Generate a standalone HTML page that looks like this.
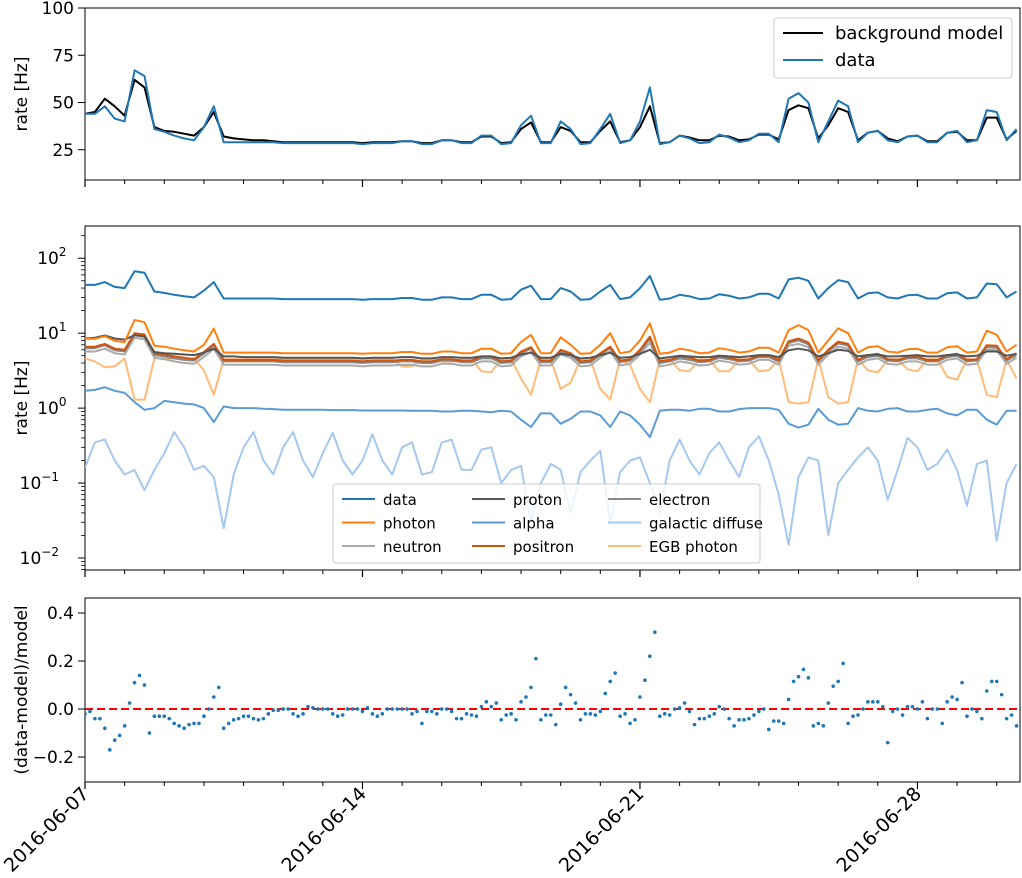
<!DOCTYPE html>
<html><head><meta charset="utf-8"><style>
html,body{margin:0;padding:0;background:#fff;}
svg{display:block;font-family:"DejaVu Sans","Liberation Sans",sans-serif;}
</style></head><body>
<svg id="c" width="1022" height="878" viewBox="0 0 1022 878" xmlns="http://www.w3.org/2000/svg"></svg>
<script>
// ---- data (sampled every 0.25 day from 2016-06-07) ----
const dataRate=[44,44,48,41.5, 40,67,64,36, 34.5,32.5,31,30, 37,48,29,29, 29,29,29,29, 28.5,28.5,28.5,28.5, 28.5,28.5,28.5,28.5, 28,28.5,28.5,28.5, 29.5,29.5,28,28, 30,30,28.5,28.5, 32.5,32.5,28,28.5, 38,43,28.5,28.5, 40,36,28,28.5, 36,44,28.5,30, 40,58,28,29, 32.5,31,28.5,29, 33,31.5,29,30, 33.5,33.5,29,52, 55,50,29,40, 51,48,29,34, 35,30,29,32, 32.5,29,29,34, 35,29,30,46, 45,30,36];
const modelRate=[44,45,52,48, 43,62,58,37, 35,34.5,33.5,32.5, 37,45,32,31, 30.5,30,30,29.5, 29,29,29,29, 29,29,29,29, 28.5,29,29,29, 29.5,29.5,28.5,28.5, 30,30,29,29, 32,32,28.5,29, 36,39.5,29,29, 37,35,29,29, 35,40,29,30, 37,48,28.5,29, 32.5,31.5,30,30, 32.5,32,30,30.5, 33,33,30.5,46, 48.5,47,31,38, 47,45,30,34, 35,31,29.5,32, 32.5,29.5,29.5,34, 34.5,30,30,42, 42,30.5,35];
const photon=[8.4,8.4,9.1,7.9, 7.6,15,14,6.8, 6.6,6.2,5.9,5.7, 7,11.5,5.5,5.5, 5.5,5.5,5.5,5.5, 5.4,5.4,5.4,5.4, 5.4,5.4,5.4,5.4, 5.3,5.4,5.4,5.4, 5.6,5.6,5.3,5.3, 5.7,5.7,5.4,5.4, 6.2,6.2,5.3,5.4, 7.6,9.5,5.4,5.4, 8.8,7,5.3,5.4, 7,10,5.4,5.7, 8,13.5,5.3,5.5, 6.2,5.9,5.4,5.5, 6.3,6,5.5,5.7, 6.4,6.4,5.5,11, 12.8,11,5.5,8, 11.6,10,5.5,6.5, 6.7,5.7,5.5,6.1, 6.2,5.5,5.5,6.5, 6.7,5.5,5.7,10.8, 9.5,5.7,7];
const positron=[6.6,6.6,7.2,6.2, 6,10,9.6,5.4, 5.2,4.9,4.7,4.5, 5.6,7.2,4.4,4.4, 4.4,4.4,4.4,4.4, 4.3,4.3,4.3,4.3, 4.3,4.3,4.3,4.3, 4.2,4.3,4.3,4.3, 4.4,4.4,4.2,4.2, 4.5,4.5,4.3,4.3, 4.9,4.9,4.2,4.3, 5.7,6.5,4.3,4.3, 6,5.4,4.2,4.3, 5.4,6.6,4.3,4.5, 6,9,4.2,4.4, 4.9,4.7,4.3,4.4, 5,4.7,4.4,4.5, 5,5,4.4,7.8, 8.5,7.5,4.4,6, 7.7,7.2,4.4,5.1, 5.3,4.5,4.4,4.8, 4.9,4.4,4.4,5.1, 5.3,4.4,4.5,6.9, 6.8,4.5,5.4];
const electron=[6.3,6.3,6.9,5.9, 5.7,9.6,9.2,5.1, 4.9,4.6,4.4,4.3, 5.3,6.9,4.2,4.2, 4.2,4.2,4.2,4.2, 4.1,4.1,4.1,4.1, 4.1,4.1,4.1,4.1, 4,4.1,4.1,4.1, 4.2,4.2,4,4, 4.3,4.3,4.1,4.1, 4.6,4.6,4,4.1, 5.4,6.2,4.1,4.1, 5.7,5.1,4,4.1, 5.1,6.3,4.1,4.3, 5.7,8.4,4,4.2, 4.6,4.4,4.1,4.2, 4.7,4.5,4.2,4.3, 4.8,4.8,4.2,7.4, 8,7.1,4.2,5.7, 7.3,6.8,4.2,4.8, 5,4.3,4.2,4.6, 4.6,4.2,4.2,4.8, 5,4.2,4.3,6.5, 6.4,4.3,5.1];
const neutron=[5.7,5.7,6.2,5.4, 5.2,8.7,8.3,4.7, 4.5,4.2,4,3.9, 4.8,6.2,3.8,3.8, 3.8,3.8,3.8,3.8, 3.7,3.7,3.7,3.7, 3.7,3.7,3.7,3.7, 3.6,3.7,3.7,3.7, 3.8,3.8,3.6,3.6, 3.9,3.9,3.7,3.7, 4.2,4.2,3.6,3.7, 4.9,5.6,3.7,3.7, 5.2,4.7,3.6,3.7, 4.7,5.7,3.7,3.9, 5.2,7.5,3.6,3.8, 4.2,4,3.7,3.8, 4.3,4.1,3.8,3.9, 4.4,4.4,3.8,6.8, 7.2,6.5,3.8,5.2, 6.6,6.2,3.8,4.4, 4.6,3.9,3.8,4.2, 4.2,3.8,3.8,4.4, 4.6,3.8,3.9,6, 5.9,3.9,4.7];
const proton=[8.5,8.7,9.3,8.5, 8.2,9.4,9,5.6, 5.4,5.3,5.2,5.1, 5.5,6.2,4.9,4.9, 4.8,4.8,4.8,4.8, 4.7,4.7,4.7,4.7, 4.7,4.7,4.7,4.7, 4.6,4.7,4.7,4.7, 4.8,4.8,4.6,4.6, 4.8,4.8,4.7,4.7, 4.9,4.9,4.6,4.7, 5.2,5.5,4.7,4.7, 5.3,5.1,4.6,4.7, 5.1,5.5,4.7,4.8, 5.3,6,4.6,4.8, 5,4.9,4.8,4.8, 5,4.9,4.8,4.9, 5.1,5.1,4.8,5.9, 6.2,5.9,4.9,5.4, 6,5.8,4.9,5.1, 5.2,4.9,4.9,5, 5.1,4.9,4.9,5.1, 5.2,4.9,5,5.7, 5.7,5,5.3];
const egbPhoton=[4.6,4.2,3.5,3.6, 4.6,1.3,1.3,4.6, 4.6,4.6,4.6,4.6, 3.2,1.5,4.5,4.5, 4.5,4.5,4.5,4.5, 4.5,4.5,4.5,4.5, 4.5,4.5,4.5,4.5, 4.5,4.5,4.5,4.5, 3.6,3.6,4.5,4.5, 4.2,4.2,4.5,4.5, 3.1,3.0,4.5,4.5, 2.5,1.5,4.5,4.5, 1.8,2.2,4.5,4.5, 1.8,1.3,4.5,3.8, 1.8,1.2,4.5,4.5, 3.2,3.1,4.5,4.4, 3.1,3.1,4.5,4.4, 3.1,3.2,4.5,1.2, 1.15,1.2,4.5,1.4, 1.15,1.2,4.5,3.2, 3.0,4.4,4.5,3.3, 3.1,4.5,4.5,2.6, 2.4,4.5,4.4,1.5, 1.4,4.4,2.5];
const alpha=[1.7,1.75,1.9,1.7, 1.6,1.2,0.95,1.0, 1.25,1.2,1.15,1.12, 1.0,0.65,1.05,1.0, 1.0,1.0,0.98,0.97, 0.95,0.95,0.95,0.95, 0.95,0.94,0.94,0.94, 0.93,0.93,0.93,0.93, 0.93,0.92,0.92,0.92, 0.9,0.9,0.92,0.92, 0.9,0.88,0.92,0.9, 0.7,0.56,0.85,0.85, 0.62,0.72,0.9,0.9, 0.8,0.56,0.9,0.8, 0.6,0.41,0.92,0.95, 0.95,0.92,0.98,0.98, 0.9,0.9,0.97,1.0, 1.0,1.0,0.95,0.62, 0.55,0.6,0.98,0.7, 0.6,0.62,1.0,0.92, 0.9,0.98,1.0,0.9, 0.9,0.95,0.98,0.85, 0.8,0.95,0.95,0.7, 0.6,0.92,0.92];
const galactic=[0.16,0.35,0.38,0.2, 0.13,0.15,0.08,0.15, 0.25,0.48,0.3,0.15, 0.17,0.12,0.025,0.13, 0.3,0.48,0.2,0.13, 0.3,0.48,0.2,0.12, 0.25,0.47,0.2,0.13, 0.2,0.45,0.2,0.13, 0.3,0.35,0.13,0.14, 0.35,0.38,0.15,0.15, 0.28,0.3,0.1,0.15, 0.17,0.03,0.1,0.18, 0.15,0.04,0.14,0.2, 0.27,0.03,0.14,0.2, 0.22,0.1,0.04,0.2, 0.38,0.2,0.13,0.25, 0.35,0.2,0.12,0.3, 0.42,0.2,0.07,0.015, 0.12,0.22,0.2,0.02, 0.1,0.15,0.22,0.3, 0.2,0.06,0.15,0.4, 0.3,0.15,0.18,0.28, 0.15,0.05,0.18,0.2, 0.017,0.1,0.18];
// residuals sampled every 0.125 day
const residual=[-0.02,-0.01,-0.04,-0.04,-0.08,-0.17,-0.13,-0.11, -0.07,0.025,0.11,0.14,0.1,-0.1,-0.03,-0.03, -0.03,-0.04,-0.06,-0.07,-0.08,-0.065,-0.06,-0.06, -0.03,0,0.05,0.09,-0.08,-0.06,-0.045,-0.04, -0.03,-0.03,-0.04,-0.045,-0.04,-0.02,-0.005,-0.005, 0,0,-0.02,-0.03,-0.02,0.01,0.005,0, 0,0,-0.02,-0.03,-0.025,0,0,0, -0.01,0.005,-0.02,-0.03,-0.02,0,0,0, 0,0,-0.02,-0.01,-0.06,-0.01,-0.01,-0.02, 0,0,-0.01,-0.04,-0.04,-0.02,-0.025,-0.03, 0.01,0.03,0.01,0.025,-0.045,-0.025,-0.02,-0.045, 0.03,0.05,0.09,0.21,-0.045,-0.025,-0.025,-0.065, 0.02,0.09,0.06,0.025,-0.045,-0.02,-0.02,-0.025, -0.01,0.065,0.115,0.15,-0.03,-0.02,-0.06,-0.045, 0.05,0.12,0.22,0.32,-0.03,-0.02,-0.025,0, 0.005,0.025,-0.01,-0.065,-0.04,-0.04,-0.03,-0.02, 0.01,0,-0.04,-0.07,-0.045,-0.045,-0.04,-0.025, -0.01,0,-0.085,-0.05,-0.05,-0.06,0.04,0.115, 0.135,0.165,0.13,-0.07,-0.06,-0.07,0.025,0.095, 0.115,0.19,-0.06,-0.03,-0.025,0,0.03,0.03, 0.03,0.01,-0.14,-0.01,0,-0.025,0.01,0.01, 0,0.03,-0.04,0,0,-0.06,0.03,0.05, 0.04,0.11,-0.03,0,-0.01,-0.04,0.075,0.115, 0.115,0.06,-0.04,-0.025,-0.07];
const xTickLabels=["2016-06-07","2016-06-14","2016-06-21","2016-06-28"];
const xTickDays=[0,7,14,21];
const topTicks=[25,50,75,100];
const midTickExp=[-2,-1,0,1,2];
const resTicks=[-0.2,0.0,0.2,0.4];

const NS="http://www.w3.org/2000/svg";
const svg=document.getElementById('c');
function mk(tag,attrs,parent){const e=document.createElementNS(NS,tag);for(const k in attrs)e.setAttribute(k,attrs[k]);(parent||svg).appendChild(e);return e;}
const X0=85,X1=1020,DAYS=(X1-X0)/39.64;
const xs=d=>X0+d*(X1-X0)/DAYS;
const P1={t:8,b:180,min:9,max:100};
const P2={t:226,b:570,lmin:-2.16,lmax:2.43};
const P3={t:598,b:782,min:-0.304,max:0.4625};
const y1=v=>P1.b-(v-P1.min)/(P1.max-P1.min)*(P1.b-P1.t);
const y2=v=>P2.b-(Math.log10(v)-P2.lmin)/(P2.lmax-P2.lmin)*(P2.b-P2.t);
const y3=v=>P3.b-(v-P3.min)/(P3.max-P3.min)*(P3.b-P3.t);
const tDay=dataRate.map((_,i)=>i*0.25);
const tRes=residual.map((_,i)=>i*0.125);

const defs=mk('defs',{});
[['cp1',P1],['cp2',P2],['cp3',P3]].forEach(([id,P])=>{const c=mk('clipPath',{id:id},defs);mk('rect',{x:X0,y:P.t,width:X1-X0,height:P.b-P.t},c);});

function line(vals,times,yf,color,name,clip,w){
  const d=vals.map((v,i)=>(i?'L':'M')+xs(times[i]).toFixed(1)+','+yf(v).toFixed(1)).join('');
  const p=mk('path',{d:d,fill:'none',stroke:color,'stroke-width':w||2,'stroke-linejoin':'round','clip-path':'url(#'+clip+')'});
  
  
  return p;
}
function txt(x,y,s,attrs,name){const t=mk('text',Object.assign({x:x,y:y,'font-size':17,fill:'#000'},attrs||{}));t.textContent=s;
  
  
  return t;}

function frame(P,name){
  const r=mk('rect',{x:X0,y:P.t,width:X1-X0,height:P.b-P.t,fill:'none',stroke:'#000','stroke-width':1});
  
  
  for(let d=0;d<=Math.floor(DAYS);d++){
    const maj=xTickDays.includes(d);
    mk('line',{x1:xs(d),x2:xs(d),y1:P.b,y2:P.b+(maj?7:4),stroke:'#000','stroke-width':maj?1.2:1});
  }
}
// ---- panel 1 ----
frame(P1,'top-panel-frame');
topTicks.forEach(v=>{mk('line',{x1:X0-7,x2:X0,y1:y1(v),y2:y1(v),stroke:'#000'});txt(X0-11,y1(v)+6,String(v),{'text-anchor':'end'},'top-y-tick-label');});
txt(0,0,'rate [Hz]',{transform:'translate(27,94) rotate(-90)','text-anchor':'middle'},'top-y-axis-title');
line(modelRate,tDay,y1,'#000','background-model-line','cp1',2);
line(dataRate,tDay,y1,'#1f77b4','data-line-top','cp1',2);
const lg1=mk('g',{});
mk('rect',{x:774,y:18,width:238,height:60,rx:3,fill:'#fff','fill-opacity':0.8,stroke:'#ccc'},lg1);
mk('line',{x1:783,x2:823,y1:33,y2:33,stroke:'#000','stroke-width':2},lg1);
mk('line',{x1:783,x2:823,y1:60,y2:60,stroke:'#1f77b4','stroke-width':2},lg1);
lg1.appendChild(txt(835,39,'background model',{'font-size':18},'legend-entry-background-model'));
lg1.appendChild(txt(835,66,'data',{'font-size':18},'legend-entry-data'));

// ---- panel 2 ----
frame(P2,'middle-panel-frame');
midTickExp.forEach(e=>{
  const y=y2(Math.pow(10,e));
  mk('line',{x1:X0-7,x2:X0,y1:y,y2:y,stroke:'#000'});
  const t=txt(X0-11,y+6,'',{'text-anchor':'end'},'middle-y-tick-label');
  const a=mk('tspan',{},t);a.textContent='10';
  const b=mk('tspan',{dy:-8,'font-size':12},t);b.textContent=String(e).replace('-','\u2212');
  t.setAttribute('x',X0-11-(String(e).length*7.5));
  for(let m=2;m<=9;m++){const v=m*Math.pow(10,e);const yy=y2(v);if(yy>P2.t&&yy<P2.b)mk('line',{x1:X0-4,x2:X0,y1:yy,y2:yy,stroke:'#000','stroke-width':0.8});}
});
for(let m=2;m<=9;m++){const yy=y2(m*0.001);if(yy>P2.t&&yy<P2.b)mk('line',{x1:X0-4,x2:X0,y1:yy,y2:yy,stroke:'#000','stroke-width':0.8});}
txt(0,0,'rate [Hz]',{transform:'translate(27,398) rotate(-90)','text-anchor':'middle'},'middle-y-axis-title');
line(galactic,tDay,y2,'#a6c8ee','galactic-diffuse-line','cp2',2);
line(alpha,tDay,y2,'#5b9bd5','alpha-line','cp2',2);
line(egbPhoton,tDay,y2,'#ffbb78','egb-photon-line','cp2',2);
line(neutron,tDay,y2,'#a9a9a9','neutron-line','cp2',2);
line(electron,tDay,y2,'#888888','electron-line','cp2',2);
line(positron,tDay,y2,'#d2540a','positron-line','cp2',2);
line(proton,tDay,y2,'#555555','proton-line','cp2',2);
line(photon,tDay,y2,'#ff7f0e','photon-line','cp2',2);
line(dataRate,tDay,y2,'#1f77b4','data-line-middle','cp2',2);
const lg2=mk('g',{});
mk('rect',{x:333,y:484,width:427,height:79,rx:3,fill:'#fff','fill-opacity':0.8,stroke:'#ccc'},lg2);
const legItems=[['data','#1f77b4',0,0],['photon','#ff7f0e',0,1],['neutron','#a9a9a9',0,2],['proton','#555555',1,0],['alpha','#5b9bd5',1,1],['positron','#d2540a',1,2],['electron','#888888',2,0],['galactic diffuse','#a6c8ee',2,1],['EGB photon','#ffbb78',2,2]];
const colX=[342,472,608];
legItems.forEach(([n,c,col,row])=>{const y=499+row*23.5;
  mk('line',{x1:colX[col],x2:colX[col]+33,y1:y,y2:y,stroke:c,'stroke-width':2},lg2);
  lg2.appendChild(txt(colX[col]+41,y+6,n,{'font-size':15},'legend-entry-'+n.replace(/ /g,'-')));});

// ---- panel 3 ----
frame(P3,'residual-panel-frame');
resTicks.forEach(v=>{mk('line',{x1:X0-7,x2:X0,y1:y3(v),y2:y3(v),stroke:'#000'});txt(X0-11,y3(v)+6,(v<0?'\u2212':'')+Math.abs(v).toFixed(1),{'text-anchor':'end'},'residual-y-tick-label');});
txt(0,0,'(data-model)/model',{transform:'translate(27,690) rotate(-90)','text-anchor':'middle'},'residual-y-axis-title');
const zl=mk('line',{x1:X0,x2:X1,y1:y3(0),y2:y3(0),stroke:'#ff0000','stroke-width':2,'stroke-dasharray':'8,4'});

residual.forEach((v,i)=>{const c=mk('circle',{cx:xs(tRes[i]),cy:y3(v),r:1.8,fill:'#1f77b4','clip-path':'url(#cp3)'});
  
  });
xTickLabels.forEach((s,i)=>{const x=xs(xTickDays[i]);
  txt(0,0,s,{transform:'translate('+(x+5)+',795) rotate(-45)','text-anchor':'end','font-size':19},'x-tick-label');});
</script>
</body></html>
